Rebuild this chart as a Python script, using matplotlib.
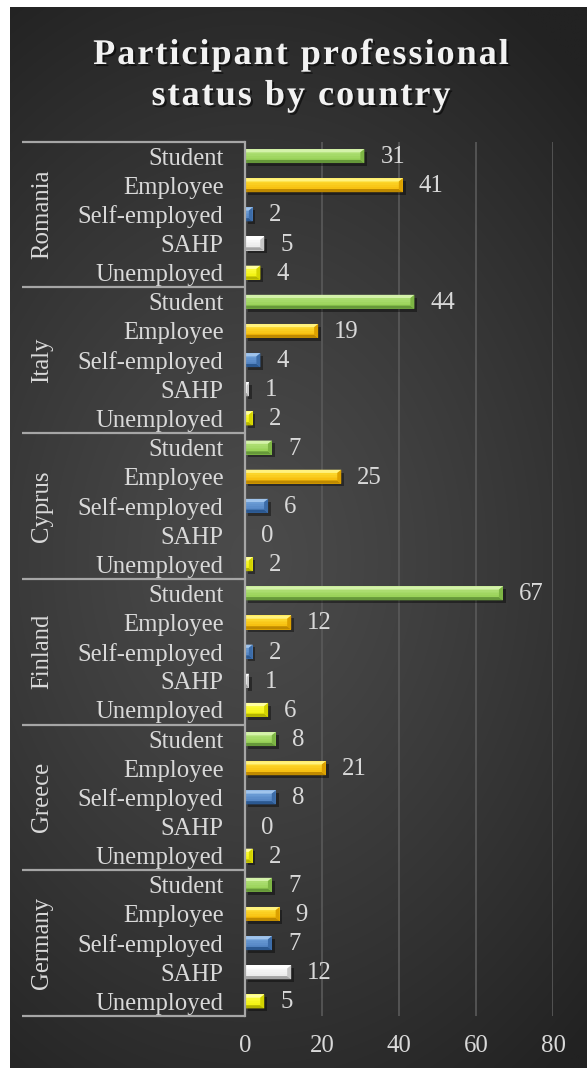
import numpy as np
import matplotlib
matplotlib.use("Agg")
import matplotlib.pyplot as plt
import matplotlib.patheffects as pe
from matplotlib.patches import Polygon
from matplotlib.transforms import blended_transform_factory
from matplotlib.colors import to_rgb
from matplotlib import font_manager
from matplotlib.ft2font import FT2Font, Kerning

# ---- data -------------------------------------------------------------
countries = ["Romania", "Italy", "Cyprus", "Finland", "Greece", "Germany"]
statuses = ["Student", "Employee", "Self-employed", "SAHP", "Unemployed"]
student = [31, 44, 7, 67, 8, 7]
employee = [41, 19, 25, 12, 21, 9]
self_employed = [2, 4, 6, 2, 8, 7]
sahp = [5, 1, 0, 1, 0, 12]
unemployed = [4, 2, 2, 6, 2, 5]
x_ticks = [0, 20, 40, 60, 80]
title_lines = ["Participant professional", "status by country"]

series = [student, employee, self_employed, sahp, unemployed]

# colour sets per status: face top, face bottom, light edge, dark edge
palette = {
    "Student":       ("#b6e47e", "#8fcc4c", "#d4f2aa", "#66983a"),
    "Employee":      ("#ffe23a", "#f4b400", "#fff27e", "#bf8a00"),
    "Self-employed": ("#74a4dc", "#4a7cbc", "#a0c4ec", "#2b5890"),
    "SAHP":          ("#ffffff", "#e4e4e4", "#ffffff", "#a4a4a4"),
    "Unemployed":    ("#ffff48", "#eeee00", "#ffffa0", "#b5b500"),
}

FONT = ["Liberation Serif", "DejaVu Serif"]
plt.rcParams["font.family"] = FONT
TXT = "#d9d9d9"
LABEL_SIZE = 17.8

W, H = 587, 1070
DPI = 100
fig = plt.figure(figsize=(W / DPI, H / DPI), dpi=DPI, facecolor="white")

# ---- dark panel with a soft radial gradient ----------------------------
bg = fig.add_axes([10 / W, 2 / H, 577 / W, 1061 / H])
ny, nx = 500, 300
yy, xx = np.mgrid[0:1:ny * 1j, 0:1:nx * 1j]
d = np.sqrt(((xx - 0.42) / 0.85) ** 2 + ((yy - 0.52) / 0.62) ** 2)
d = np.clip(d, 0, 1) ** 1.2
c_in = np.array(to_rgb("#4b4b4b"))
c_out = np.array(to_rgb("#222222"))
img = c_in + (c_out - c_in) * d[..., None]
bg.imshow(img, aspect="auto", extent=[0, 1, 0, 1], interpolation="bilinear")
bg.set_axis_off()

# ---- title with extra letter spacing -----------------------------------
TITLE_SIZE = 26
TRACKING = 2.0  # extra pixels between letters
title_prop = font_manager.FontProperties(family=FONT[0], weight="bold", size=TITLE_SIZE)
ft = FT2Font(font_manager.findfont(title_prop))
ft.set_size(TITLE_SIZE, DPI)


def advances(text):
    out, prev = [], None
    for ch in text:
        idx = ft.get_char_index(ord(ch))
        kern = ft.get_kerning(prev, idx, Kerning.DEFAULT) / 64 if prev is not None else 0
        g = ft.load_char(ord(ch))
        out.append((kern, g.linearHoriAdvance / 65536))
        prev = idx
    return out


title_fx = [pe.SimplePatchShadow(offset=(1.5, -1.5), shadow_rgbFace="black", alpha=0.55),
            pe.Normal()]
for i, line in enumerate(title_lines):
    adv = advances(line)
    total = sum(k + a for k, a in adv) + TRACKING * (len(line) - 1)
    x = 301 - total / 2
    y = 1 - (64 + 41 * i) / H
    for ch, (k, a) in zip(line, adv):
        x += k
        fig.text(x / W, y, ch, ha="left", va="baseline", fontproperties=title_prop,
                 color="#f2f2f2", path_effects=title_fx)
        x += a + TRACKING

# ---- plot area --------------------------------------------------------
L, R, T, B = 245, 553, 141.5, 1016
ax = fig.add_axes([L / W, 1 - B / H, (R - L) / W, (B - T) / H])
ax.set_facecolor("none")
n_cat = len(countries) * len(statuses)
ax.set_xlim(x_ticks[0], x_ticks[-1])
ax.set_ylim(n_cat - 0.5, -0.5)

px_x = (x_ticks[-1] - x_ticks[0]) / (R - L)      # data units per pixel (x)
px_y = n_cat / (B - T)                            # data units per pixel (y)
bar_h = 0.48

shadow_fx = [pe.SimplePatchShadow(offset=(2, -2), shadow_rgbFace="black", alpha=0.4),
             pe.Normal()]


def bevel_bar(y, v, cols):
    if v <= 0:
        return
    top_c, bot_c, light_c, dark_c = cols
    top = y - bar_h / 2
    bot = y + bar_h / 2
    # face with vertical gradient
    ax.barh(y, v, height=bar_h, color=bot_c, linewidth=0, zorder=3,
            path_effects=shadow_fx)
    steps = 8
    c0, c1 = np.array(to_rgb(top_c)), np.array(to_rgb(bot_c))
    for s in range(steps):
        f = s / (steps - 1)
        yc = top + bar_h * (s + 0.5) / steps
        ax.barh(yc, v, height=bar_h / steps * 1.05, color=c0 + (c1 - c0) * f,
                linewidth=0, zorder=3.5)
    bw = min(4 * px_x, v / 2)
    bh = 3.2 * px_y
    poly_top = [(0, top), (v, top), (v - bw, top + bh), (0, top + bh)]
    poly_bot = [(0, bot), (v, bot), (v - bw, bot - bh), (0, bot - bh)]
    poly_right = [(v, top), (v, bot), (v - bw, bot - bh), (v - bw, top + bh)]
    mid_dark = 0.55 * np.array(to_rgb(bot_c)) + 0.45 * np.array(to_rgb(dark_c))
    for pts, c in ((poly_top, light_c), (poly_bot, dark_c), (poly_right, mid_dark)):
        ax.add_patch(Polygon(pts, closed=True, facecolor=c, edgecolor="none", zorder=4))


labels = []
for g, country in enumerate(countries):
    for k, status in enumerate(statuses):
        pos = g * len(statuses) + k
        v = series[k][g]
        bevel_bar(pos, v, palette[status])
        ax.annotate(str(v), xy=(v, pos), xytext=(16, -1), textcoords="offset pixels",
                    ha="left", va="center", fontsize=LABEL_SIZE, color=TXT, zorder=5)
        labels.append(status)

# category axis
ax.set_yticks(range(n_cat))
ax.set_yticklabels(labels, fontsize=LABEL_SIZE, color=TXT)
ax.tick_params(axis="y", length=0, pad=15.5)

ax.set_xticks(x_ticks)
ax.set_xticklabels([str(t) for t in x_ticks], fontsize=LABEL_SIZE, color=TXT)
ax.tick_params(axis="x", length=0, pad=13.5)

ax.xaxis.grid(True, color="#5a5a5a", linewidth=1.2)
ax.set_axisbelow(True)
for s in ("top", "right", "bottom"):
    ax.spines[s].set_visible(False)
ax.spines["left"].set_color("#a6a6a6")
ax.spines["left"].set_linewidth(1.6)
ax.spines["left"].set_zorder(6)

# country group labels and separators
bt = blended_transform_factory(ax.transAxes, ax.transData)
x_line = (22 - L) / (R - L)
x_country = (42 - L) / (R - L)
for g in range(len(countries) + 1):
    yb = g * len(statuses) - 0.5
    ax.plot([x_line, 0], [yb, yb], transform=bt, clip_on=False,
            color="#a6a6a6", linewidth=1.6, solid_capstyle="butt")
for g, country in enumerate(countries):
    yc = g * len(statuses) + (len(statuses) - 1) / 2
    ax.text(x_country, yc, country, transform=bt, rotation=90,
            ha="center", va="center", fontsize=LABEL_SIZE, color=TXT)

fig.savefig("out.png", dpi=DPI, facecolor=fig.get_facecolor())
